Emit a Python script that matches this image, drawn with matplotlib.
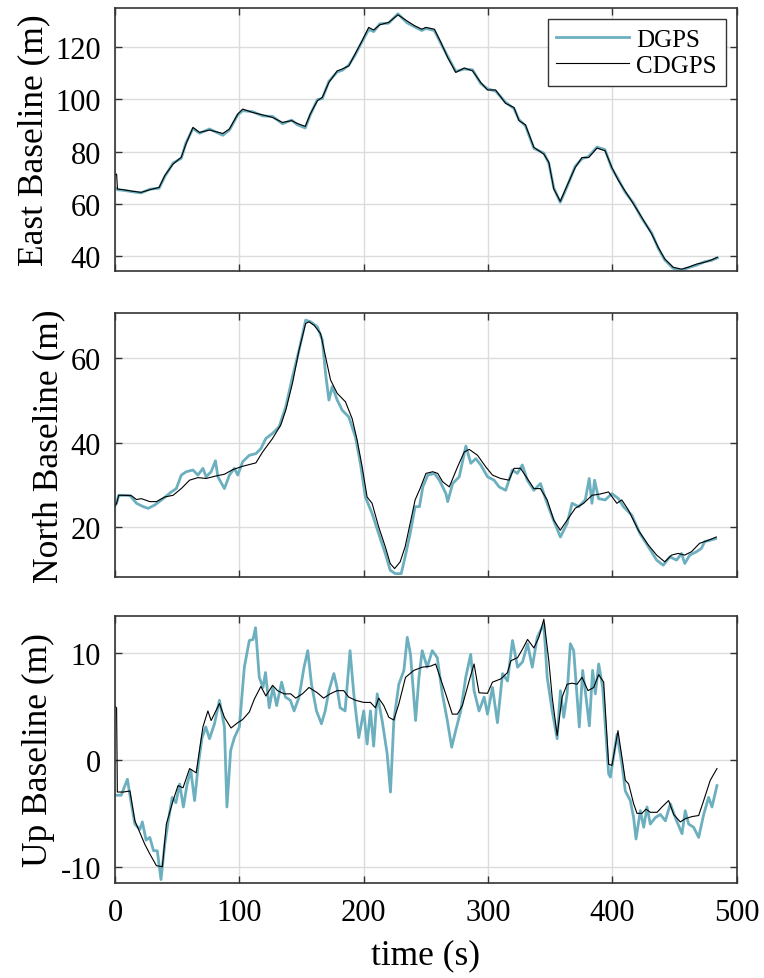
import matplotlib
matplotlib.use("Agg")
import matplotlib.pyplot as plt

plt.rcParams['font.family'] = ['Liberation Serif', 'DejaVu Serif']
plt.rcParams['axes.unicode_minus'] = False

# ---- East baseline ----
east_t_cd = [0, 1.3, 2, 6.7, 14.7, 21, 28, 35.5, 40, 46.7, 53.3, 57, 62.7, 68, 76, 86.7, 92, 98.7,
             102.7, 110.7, 118.7, 126.7, 134.7, 142, 146.7, 153, 157, 162.7, 166.7, 172, 178.7,
             182.7, 188, 193, 198.7, 204, 208, 213, 220, 227.5, 234.7, 241, 246.7, 250, 256.8,
             262, 267.5, 274, 280.8, 287.5, 294, 299.5, 306, 314, 320.8, 324.8, 330, 336.8, 344.8,
             348.8, 352.8, 358, 363.5, 370, 375.5, 380.8, 387.5, 394, 399.5, 404.8, 410, 416.8,
             423.5, 431.5, 436.8, 442, 448.8, 455.5, 460.8, 467.5, 474, 479.5, 484.3]
east_cd = [71.0, 71.4, 65.7, 65.4, 64.8, 64.4, 65.4, 66.3, 70.8, 75.2, 77.8, 82.8, 89.2, 87.3, 88.2,
           86.9, 88.6, 94.3, 96.2, 94.9, 94.0, 93.0, 91.1, 91.8, 90.7, 89.6, 94.3, 99.4, 100.7, 106.4,
           110.8, 111.5, 112.7, 117.2, 122.3, 127.4, 126.4, 128.4, 129.3, 132.2, 129.9, 128.0, 126.7,
           127.4, 126.7, 121.7, 115.9, 110.2, 111.9, 110.8, 106.4, 103.5, 103.5, 98.4, 96.8, 91.8,
           90.2, 81.6, 79.0, 75.9, 65.7, 61.0, 67.0, 73.9, 77.7, 77.7, 81.3, 80.3, 73.9, 68.9, 65.0,
           60.0, 54.9, 48.5, 43.4, 39.0, 35.8, 35.1, 35.8, 37.0, 37.7, 38.6, 39.6]
east_t_dg = east_t_cd
east_dg = [66.0, 65.8, 65.4, 65.2, 64.6, 64.2, 65.6, 66.0, 70.4, 75.6, 77.4, 83.2, 88.8, 87.0, 88.6,
           86.2, 88.2, 94.0, 95.6, 95.2, 93.6, 93.4, 90.6, 92.0, 90.2, 89.0, 94.0, 99.8, 100.2, 106.8,
           110.4, 111.0, 113.0, 116.8, 122.0, 126.6, 125.8, 128.8, 129.0, 132.6, 129.2, 127.6, 126.2,
           127.0, 126.2, 121.3, 116.3, 110.6, 111.5, 111.2, 106.0, 103.9, 103.1, 98.8, 96.4, 92.2,
           89.8, 81.2, 79.4, 75.5, 66.1, 60.6, 66.6, 74.3, 77.3, 78.1, 81.7, 80.7, 73.5, 69.3, 64.6,
           60.4, 54.5, 48.9, 43.0, 38.6, 35.4, 34.6, 35.6, 36.6, 37.9, 38.4, 39.4]

# ---- North baseline ----
north_t_cd = [0, 1.3, 3, 6.7, 13.3, 17.3, 21.3, 28, 33.3, 40, 46.7, 53.3, 60, 66.7, 73.3, 81.3, 88,
              94.7, 102.7, 113.3, 118.7, 126.7, 133.3, 137.3, 142.7, 148, 153.3, 156, 160, 165.3,
              169.3, 173.3, 178.7, 185.3, 190.7, 194.7, 198.7, 202.7, 206.7, 212, 217.3, 221.3,
              224.8, 229.3, 233.3, 237.3, 241.3, 245.3, 250, 255.5, 259.5, 263.5, 268.8, 275.5,
              280.8, 284.8, 291.5, 298, 303.5, 310, 316.8, 320.8, 326, 331.5, 336.8, 342, 347.5,
              352.8, 358, 363.5, 370, 376.8, 383.5, 390, 396.8, 403.5, 407.5, 412.8, 420.8, 428.8,
              435.5, 442, 447.5, 452.8, 458, 463.5, 470, 476.8, 483.5]
north_cd = [25.0, 25.6, 27.5, 27.5, 27.4, 26.5, 26.7, 26.0, 26.0, 27.1, 27.5, 29.1, 31.1, 31.7, 31.5,
            32.1, 32.5, 33.6, 34.4, 35.2, 37.8, 41.0, 44.2, 47.7, 54.1, 62.0, 68.3, 68.7, 67.9, 65.9,
            60.4, 54.9, 51.7, 49.7, 45.7, 40.6, 34.3, 27.1, 25.6, 20.0, 15.3, 11.3, 10.1, 11.7, 15.3,
            20.8, 26.4, 29.1, 32.7, 33.1, 32.7, 30.7, 29.5, 34.3, 37.8, 38.4, 37.0, 34.3, 32.3, 31.5,
            31.1, 33.9, 33.9, 31.5, 29.1, 29.1, 26.4, 21.6, 19.2, 21.6, 24.4, 25.6, 27.5, 27.8, 28.3,
            25.6, 26.4, 24.0, 19.2, 15.7, 13.3, 11.7, 13.3, 13.7, 13.3, 14.1, 16.1, 16.8, 17.6]
north_t_dg = [0, 1.3, 3, 12, 17.3, 22.7, 26.7, 32, 38.7, 45.3, 49.3, 53.3, 57.3, 62.7, 66.7, 70.7,
              73.3, 77.3, 80.8, 82.7, 88, 92, 96, 98.7, 102.7, 108, 113.3, 117.3, 121.3, 126.7, 132,
              137.3, 142.7, 148, 153.3, 157.3, 162.7, 166.7, 169.3, 172, 174.7, 178.7, 182.7, 188,
              193.3, 197.3, 201.3, 206.7, 212, 217.3, 221.3, 225.3, 230.1, 233.3, 237.3, 241.3,
              244.8, 247.5, 251.5, 256.8, 260.8, 266.1, 267.5, 271.5, 276.8, 282.1, 286.1, 290.1,
              294.1, 299.5, 304.8, 308.8, 314.1, 319.5, 323.5, 327.5, 331.5, 336.8, 342.1, 346.1,
              351.5, 358.1, 363.5, 367.5, 372.8, 378.1, 381.3, 383.5, 385.6, 388.8, 394.1, 399.5,
              404.8, 408.8, 415.5, 422.1, 428.8, 435.5, 440.8, 446.1, 451.5, 455.5, 458.1, 462.1,
              467.5, 471.5, 474.1, 478.1, 482.9]
north_dg = [25.0, 25.6, 27.5, 27.5, 25.6, 24.8, 24.4, 25.2, 26.7, 28.3, 29.1, 32.3, 33.1, 33.5, 32.3,
            33.9, 31.9, 33.1, 35.7, 31.9, 29.1, 32.3, 33.9, 32.3, 35.5, 37.0, 37.4, 38.6, 41.0, 42.2,
            43.8, 48.5, 55.6, 62.0, 69.1, 68.7, 67.5, 64.4, 56.4, 50.1, 53.3, 50.1, 47.7, 46.1, 41.4,
            35.1, 27.1, 23.2, 18.4, 13.7, 9.7, 8.9, 8.9, 12.9, 18.4, 24.8, 24.8, 29.5, 32.3, 32.7,
            31.1, 27.9, 26.0, 30.3, 31.9, 39.2, 35.1, 36.2, 34.7, 31.9, 31.1, 29.5, 28.7, 33.5, 32.7,
            34.7, 31.1, 28.7, 30.3, 26.7, 22.4, 17.6, 20.8, 25.6, 24.8, 26.4, 31.5, 25.6, 31.1, 26.7,
            26.4, 27.9, 26.7, 24.8, 22.8, 18.4, 15.3, 12.1, 10.9, 12.9, 12.1, 13.7, 11.3, 13.3, 14.1,
            14.9, 16.5, 16.8, 17.2]

# ---- Up baseline ----
up_t_cd = [0, 1.3, 1.9, 6.7, 12, 16, 20, 24, 28, 33.3, 38.1, 41.3, 46.7, 50.7, 54.7, 60, 65.3, 70.7,
           74.7, 77.3, 84, 88, 93.3, 98.7, 102.7, 108, 112, 117.3, 121.3, 126.7, 130.7, 136, 141.3,
           145.3, 150.7, 156, 162.7, 167.7, 173, 178.5, 183.9, 187.9, 193.3, 200, 205.4, 209.4, 212,
           216.1, 220.2, 224.2, 228.2, 233.6, 240.3, 247, 253.8, 257.8, 261.8, 265.9, 271.2, 275.3,
           279.3, 284.7, 288.7, 292.7, 299.5, 303.5, 310.2, 315.6, 318.3, 323.7, 327.7, 331.7, 336.8,
           340.8, 344.8, 348.8, 351.5, 355.5, 359.5, 363.5, 367.5, 371.5, 375.5, 380.3, 384.9,
           388.9, 392.9, 396.9, 399.6, 404.4, 407.6, 410.3, 413, 417, 419.7, 423.7, 426.9, 430.4,
           435.8, 439.8, 445.1, 449.2, 454.5, 458.5, 463.9, 469.3, 473.3, 478.6, 484]
up_cd = [5.0, 4.9, -3.0, -3.0, -2.9, -5.7, -6.8, -7.9, -8.8, -9.9, -10.0, -6.0, -3.8, -2.4, -2.6, -0.8,
         -1.2, 3.1, 4.6, 3.7, 5.3, 4.0, 3.0, 3.5, 3.8, 4.5, 5.7, 6.9, 6.0, 7.0, 6.5, 6.2, 6.2, 5.8, 6.2,
         6.8, 6.3, 5.8, 6.2, 6.5, 6.5, 5.9, 5.6, 5.4, 5.4, 4.9, 5.8, 5.1, 4.0, 3.75, 5.25, 7.75, 8.4,
         8.7, 8.8, 9.0, 7.6, 6.2, 4.3, 4.3, 5.1, 7.4, 9.0, 6.3, 6.25, 7.3, 7.6, 8.2, 9.3, 9.6, 10.4,
         11.3, 10.5, 11.5, 13.2, 9.3, 5.9, 2.3, 5.9, 7.1, 7.2, 7.1, 7.75, 6.5, 6.8, 8.0, 7.3, -0.4,
         -0.5, 2.75, 0.25, -1.9, -2.25, -4.1, -5.0, -5.0, -4.6, -4.9, -4.9, -4.4, -3.8, -5.1, -5.8,
         -5.5, -5.3, -5.2, -3.8, -1.9, -0.8]
up_t_dg = [0, 5, 10, 13, 16, 20, 22, 25, 28, 31, 34, 37, 40, 43, 46, 49, 52, 55, 58, 61, 64, 67, 70,
           73, 76, 80, 84, 88, 90, 93, 96, 100, 104, 108, 111, 113, 116, 119, 121, 124, 127, 130, 134,
           137, 141, 144, 148, 152, 155, 158, 162, 166, 169, 172, 176, 178.5, 181, 185, 189, 192, 196,
           200, 202.7, 205.4, 208, 210.8, 214.8, 218.8, 221.5, 224.2, 228.2, 232.3, 235, 237.6,
           241.7, 244.4, 247, 251, 255.1, 259.1, 263.2, 267.2, 270.7, 273.9, 278, 282, 286, 288.7,
           292.7, 296.8, 299.5, 303.5, 307.5, 311.6, 315.6, 319.6, 323.7, 327.7, 331.7, 335.5,
           339.5, 344.8, 347.5, 351.5, 355.5, 358.1, 360.8, 363.5, 366.1, 368.8, 371.5, 373.3, 376,
           378.7, 381.4, 384, 386.2, 388.9, 392.1, 396.9, 398.3, 403.6, 407.6, 410.3, 414.3, 417,
           418.9, 422.4, 425.1, 427.8, 430.4, 434.4, 438.5, 442.5, 446.5, 450.5, 455.9, 458.5,
           461.2, 465.2, 469.3, 473.3, 477.3, 480, 484]
up_dg = [-3.3, -3.3, -1.8, -4.0, -6.0, -6.5, -5.8, -7.5, -7.25, -8.5, -8.5, -11.2, -7.9, -5.6, -3.5,
         -4.0, -2.25, -4.4, -2.25, -1.0, -3.8, -0.4, 2.1, 3.1, 2.0, 3.4, 5.6, 3.1, -4.4, 0.9, 2.1, 3.1,
         8.7, 11.2, 11.3, 12.4, 7.75, 6.8, 8.2, 4.9, 6.8, 5.1, 7.3, 5.9, 5.6, 4.6, 5.9, 8.7, 10.25,
         7.1, 4.6, 3.4, 4.6, 6.5, 8.1, 6.8, 4.9, 4.6, 10.25, 6.2, 2.1, 4.6, 1.5, 4.6, 1.3, 6.2, 3.7,
         0.6, -3.0, 3.7, 7.1, 8.4, 11.5, 9.9, 3.7, 7.75, 10.25, 8.7, 10.25, 9.6, 6.2, 3.7, 1.2, 2.75,
         4.6, 7.75, 9.9, 6.5, 4.6, 5.9, 4.3, 6.8, 3.5, 8.1, 7.4, 11.2, 8.7, 9.2, 10.9, 8.7, 11.5,
         12.75, 7.75, 4.6, 2.0, 6.5, 4.0, 6.2, 10.9, 10.25, 5.9, 3.1, 8.4, 5.9, 3.2, 8.4, 6.2, 9.0,
         6.8, -1.3, -1.6, 2.4, -0.4, -2.9, -3.8, -5.4, -7.4, -4.75, -6.3, -4.4, -6.0, -5.4, -5.1,
         -5.7, -4.1, -5.4, -6.9, -4.75, -6.0, -6.3, -7.25, -5.1, -3.5, -4.4, -2.4]

dgps_color = '#6cafbf'
panels = [
    ('East Baseline (m)', east_t_dg, east_dg, east_t_cd, east_cd, (34.5, 134.8), [40, 60, 80, 100, 120]),
    ('North Baseline (m)', north_t_dg, north_dg, north_t_cd, north_cd, (8.1, 70.8), [20, 40, 60]),
    ('Up Baseline (m)', up_t_dg, up_dg, up_t_cd, up_cd, (-11.5, 13.5), [-10, 0, 10]),
]
boxes = [[0.1505, 0.7225, 0.814, 0.2683],
         [0.1505, 0.4096, 0.814, 0.2697],
         [0.1505, 0.0973, 0.814, 0.2725]]

fig = plt.figure(figsize=(7.64, 9.79), dpi=100)
for i, (lab, td, yd, tc, yc, ylim, yt) in enumerate(panels):
    ax = fig.add_axes(boxes[i])
    ax.plot(td, yd, color=dgps_color, lw=2.0, label='DGPS')
    ax.plot(tc, yc, color='black', lw=0.8, label='CDGPS')
    ax.set_xlim(0, 500)
    ax.set_ylim(*ylim)
    ax.set_yticks(yt)
    ax.set_xticks([0, 100, 200, 300, 400, 500])
    ax.grid(True, color='#dcdcdc', lw=1.0)
    ax.set_axisbelow(True)
    ax.tick_params(direction='in', length=5, width=1.0, color='#333333', labelsize=22,
                   top=True, right=True)
    ax.tick_params(axis='y', pad=10)
    ax.tick_params(axis='x', pad=11)
    for s in ax.spines.values():
        s.set_color('#333333')
        s.set_linewidth(1.2)
    ax.set_ylabel(lab, fontsize=25.5, labelpad=4)
    if i < 2:
        ax.set_xticklabels([])
    else:
        ax.set_xlabel('time (s)', fontsize=25.5, labelpad=8)
    if i == 0:
        leg = ax.legend(loc='upper right', fontsize=18, fancybox=False, framealpha=1,
                        edgecolor='#333333', handlelength=2.9, borderaxespad=0.45,
                        handletextpad=0.3, labelspacing=0.15, borderpad=0.35)
        leg.get_frame().set_linewidth(1.0)

fig.savefig('out.png', dpi=100)
